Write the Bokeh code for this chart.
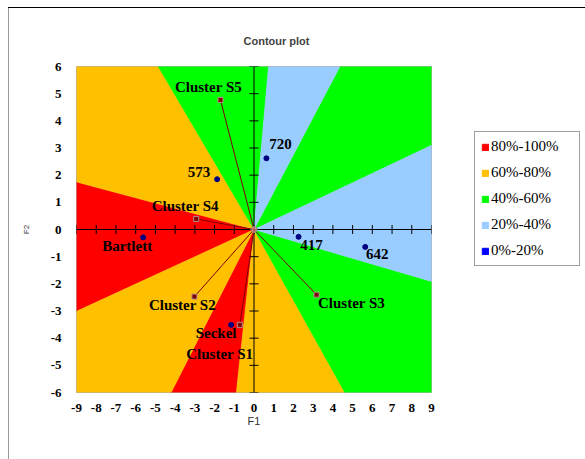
import math
from bokeh.plotting import figure
from bokeh.layouts import row
from bokeh.models import (ColumnDataSource, FixedTicker, Legend, LegendItem)
from bokeh.core.properties import value
from bokeh.embed import file_html
from bokeh.resources import INLINE

# ---- data -------------------------------------------------------------
x_ticks = list(range(-9, 10))
y_ticks = list(range(-6, 7))

# contour bands, listed by the angle (degrees, counter-clockwise from +F1)
# at which each band starts and ends around the origin
band_start = [19.0, 54.0, 83.0, 129.0, 169.0, 198.5, 235.0, 261.5, 307.5, 348.0]
band_end = [54.0, 83.0, 129.0, 169.0, 198.5, 235.0, 261.5, 307.5, 348.0, 379.0]
band_class = ["40%-60%", "20%-40%", "40%-60%", "60%-80%", "80%-100%",
              "60%-80%", "80%-100%", "60%-80%", "40%-60%", "20%-40%"]

classes = ["80%-100%", "60%-80%", "40%-60%", "20%-40%", "0%-20%"]
class_colors = ["#FF0000", "#FFC000", "#00FF00", "#99CCFF", "#0000FF"]

cluster_names = ["Cluster S1", "Cluster S2", "Cluster S3", "Cluster S4", "Cluster S5"]
cluster_x = [-0.72, -3.02, 3.17, -2.93, -1.70]
cluster_y = [-3.51, -2.47, -2.40, 0.39, 4.77]

obs_names = ["Bartlett", "Seckel", "417", "573", "642", "720"]
obs_x = [-5.62, -1.16, 2.26, -1.87, 5.64, 0.63]
obs_y = [-0.29, -3.51, -0.27, 1.85, -0.64, 2.62]

# label placement (pixels) relative to each point
cluster_dx = [-20, -12, 35, -11, -12]
cluster_dy = [29, 8, 8, -13, -13]
obs_dx = [-16, -15, 13, -18, 12, 14]
obs_dy = [9, 8, 8, -7, 7, -14]

X_MIN, X_MAX, Y_MIN, Y_MAX = -9, 9, -6, 6


def edge_point(deg):
    """Where a ray from the origin leaves the plotting rectangle."""
    a = math.radians(deg)
    dx, dy = math.cos(a), math.sin(a)
    ts = []
    if abs(dx) > 1e-12:
        ts.append((X_MAX if dx > 0 else -X_MIN) / abs(dx))
    if abs(dy) > 1e-12:
        ts.append((Y_MAX if dy > 0 else -Y_MIN) / abs(dy))
    t = min(ts)
    return dx * t, dy * t


corner_deg = [math.degrees(math.atan2(cy, cx)) % 360
              for cx, cy in [(X_MAX, Y_MAX), (X_MIN, Y_MAX), (X_MIN, Y_MIN), (X_MAX, Y_MIN)]]


def sector(a1, a2):
    angs = [a1]
    for c in corner_deg:
        for k in (0, 360):
            if a1 < c + k < a2:
                angs.append(c + k)
    angs.append(a2)
    angs.sort()
    xs, ys = [0.0], [0.0]
    for a in angs:
        px, py = edge_point(a)
        xs.append(px)
        ys.append(py)
    return xs, ys


p = figure(width=454, height=459, x_range=(X_MIN, X_MAX), y_range=(Y_MIN, Y_MAX),
           output_backend="svg", toolbar_location=None,
           min_border_left=76, min_border_right=23, min_border_top=66, min_border_bottom=67)
p.border_fill_color = None
p.background_fill_color = "white"
p.grid.visible = False
p.outline_line_color = "#b0b0b0"

# colour bands
for cls, col in zip(classes, class_colors):
    xs, ys = [], []
    for a1, a2, c in zip(band_start, band_end, band_class):
        if c == cls:
            sx, sy = sector(a1, a2)
            xs.append(sx)
            ys.append(sy)
    if xs:
        p.patches(xs=xs, ys=ys, fill_color=col, line_color=col, line_width=0.5)

# axes through the origin with crossing tick marks
p.segment(x0=[X_MIN, 0], y0=[0, Y_MIN], x1=[X_MAX, 0], y1=[0, Y_MAX],
          line_color="black", line_width=1)
p.scatter(x=x_ticks, y=[0] * len(x_ticks), marker="dash", size=9, angle=math.pi / 2,
          line_color="black", line_width=1)
p.scatter(x=[0] * len(y_ticks), y=y_ticks, marker="dash", size=9,
          line_color="black", line_width=1)

# cluster vectors
p.segment(x0=[0] * len(cluster_x), y0=[0] * len(cluster_y), x1=cluster_x, y1=cluster_y,
          line_color="#800000", line_width=1)
p.scatter(x=[0], y=[0], marker="circle", size=6, fill_color="#FF9999",
          line_color="#A08080", fill_alpha=0.6)

csrc = ColumnDataSource(dict(x=cluster_x, y=cluster_y, name=cluster_names,
                             dx=cluster_dx, dy=cluster_dy))
p.scatter("x", "y", source=csrc, marker="square", size=5, fill_color="#800000",
          line_color="#B09090", line_width=1)

osrc = ColumnDataSource(dict(x=obs_x, y=obs_y, name=obs_names, dx=obs_dx, dy=obs_dy))
p.scatter("x", "y", source=osrc, marker="circle", size=5, fill_color="#000080",
          line_color="#000080")

for src in (csrc, osrc):
    p.text("x", "y", text="name", source=src, x_offset="dx", y_offset="dy",
           text_align="center", text_baseline="middle",
           text_font=value("Liberation Serif"), text_font_style="bold",
           text_font_size="15px", text_color="black")

# edge axes carry only the tick labels and titles
for ax, ticks in ((p.xaxis[0], x_ticks), (p.yaxis[0], y_ticks)):
    ax.ticker = FixedTicker(ticks=ticks)
    ax.major_label_overrides = {t: str(t) for t in ticks}
    ax.axis_line_color = None
    ax.major_tick_line_color = None
    ax.minor_tick_line_color = None
    ax.major_label_text_font = "Liberation Serif"
    ax.major_label_text_font_style = "bold"
    ax.major_label_text_font_size = "13px"
    ax.major_label_text_color = "black"
    ax.axis_label_text_font = "Liberation Sans"
    ax.axis_label_text_font_style = "normal"
    ax.axis_label_text_color = "#333333"

p.xaxis[0].axis_label = "F1"
p.xaxis[0].axis_label_text_font_size = "11px"
p.xaxis[0].major_label_standoff = 5
p.xaxis[0].axis_label_standoff = 0
p.yaxis[0].axis_label = "F2"
p.yaxis[0].axis_label_text_font_size = "8px"
p.yaxis[0].major_label_standoff = 9
p.yaxis[0].axis_label_standoff = 17

p.title.text = "Contour plot"
p.title.text_font = "Liberation Sans"
p.title.text_font_size = "11px"
p.title.text_font_style = "bold"
p.title.align = "left"
p.title.offset = 167
p.title.standoff = 40

# legend panel to the right of the chart
lg = figure(width=131, height=459, output_backend="svg", toolbar_location=None,
            min_border=0, x_axis_location=None, y_axis_location=None)
lg.border_fill_color = None
lg.background_fill_color = None
lg.outline_line_color = None
lg.grid.visible = False
swatches = [lg.patches(xs=[[]], ys=[[]], fill_color=col, line_color=col)
            for col in class_colors]
legend = Legend(items=[LegendItem(label=c, renderers=[r]) for c, r in zip(classes, swatches)],
                location=(20, 126), orientation="vertical", margin=0,
                glyph_width=8, glyph_height=8, label_standoff=2,
                label_height=14, label_width=82, spacing=9, padding=6,
                label_text_font="Liberation Serif", label_text_font_size="15px",
                label_text_color="black",
                border_line_color="#404040", border_line_width=1,
                background_fill_color="white", background_fill_alpha=1)
lg.add_layout(legend)

layout = row(p, lg, spacing=0)
layout.styles = {
    "background": "linear-gradient(#000,#000) 8px 7px / 577px 1px no-repeat, "
                  "linear-gradient(#999,#999) 8px 7px / 1px 452px no-repeat, #fff"
}

open("out.html", "w").write(file_html(layout, INLINE))
